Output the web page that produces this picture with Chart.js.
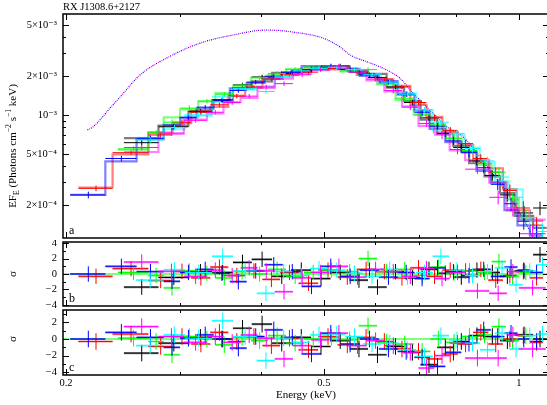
<!doctype html>
<html>
<head>
<meta charset="utf-8">
<title>RX J1308.6+2127</title>
<script src="https://cdn.jsdelivr.net/npm/chart.js"></script>
<style>
    body { margin: 0; background: #fff; overflow: hidden; }
    #wrap { position: relative; width: 547px; height: 405px; overflow: hidden; }
    canvas { position: absolute; left: 0; }
</style>
<script>
    // axis ticks (panel a values are in units of 1e-4)
    const xTickVals = [0.2, 0.3, 0.4, 0.5, 0.6, 0.7, 0.8, 0.9, 1.0];
    const xLabelVals = [0.2, 0.5, 1.0];
    const yTickValsA = [2, 3, 4, 5, 6, 7, 8, 9, 10, 20, 30, 40, 50];
    const yLabelsA = {2: '2×10⁻⁴', 5: '5×10⁻⁴', 10: '10⁻³', 20: '2×10⁻³', 50: '5×10⁻³'};
    const resTickVals = [-4, -3, -2, -1, 0, 1, 2, 3, 4];

    // unabsorbed model curve (dotted)
    const curveE = [0.2158, 0.2200, 0.236, 0.2425, 0.2601, 0.2862, 0.3222, 0.3618, 0.4082, 0.4589, 0.4984, 0.5296, 0.5489, 0.5835, 0.6107, 0.655, 0.686, 0.711, 0.775, 0.82, 0.902, 0.958, 1.004, 1.052];
    const curveV = [7.65, 8.07, 11.9, 13.8, 20.4, 27.7, 36.1, 41.7, 45.6, 43.2, 39.5, 33.7, 29.2, 25.8, 23.6, 19.3, 14.8, 12.4, 8.07, 6.75, 3.75, 2.49, 1.74, 1.13];

    // black
    const blackEdges = [0.2457, 0.2778, 0.309, 0.336, 0.362, 0.387, 0.416, 0.445, 0.478, 0.512, 0.548, 0.585, 0.625, 0.665, 0.705, 0.748, 0.792, 0.838, 0.885, 0.935, 0.985, 1.052, 1.104];
    const blackFlux = [6.1, 8.1, 10.7, 13.1, 17.1, 19.7, 21.0, 22.0, 23.0, 24.0, 21.5, 19.5, 16.5, 12.5, 9.5, 7.2, 5.6, 4.4, 3.4, 2.4, 1.74, 1.9];
    const blackErr = [5, 5, 4, 4, 4, 4, 4, 4, 4, 4, 4, 4, 4, 5, 5, 6, 7, 8, 9, 11, 13, 12];
    const blackResB = [-1.7, -0.45, 0.3, 0.2, 1.5, 1.9, -0.3, 0.5, -0.6, 0.2, -0.8, -1.7, 0.3, -0.5, 0.6, 0.1, -0.4, 0.5, 0.2, -0.3, 0.4, 2.5];
    const blackResC = [-1.7, -0.5, 0.2, 0.0, 1.3, 1.8, -0.5, 0.2, -0.9, -0.2, -1.2, -1.9, -0.9, -1.6, -3.1, -1.0, -0.3, 0.4, 0.3, -0.2, 0.5, 0.0];

    // red
    const redEdges = [0.209, 0.236, 0.268, 0.292, 0.312, 0.334, 0.356, 0.378, 0.402, 0.428, 0.457, 0.490, 0.525, 0.562, 0.600, 0.640, 0.680, 0.720, 0.762, 0.805, 0.850, 0.897, 0.945, 0.992, 1.040, 1.090];
    const redFlux = [2.7, 5.1, 7.0, 8.8, 10.5, 12.0, 14.0, 16.5, 19.0, 20.5, 21.5, 23.0, 22.5, 21.0, 19.0, 16.5, 12.5, 9.5, 7.6, 6.0, 4.6, 3.6, 2.6, 1.9, 1.4];
    const redErr = [5, 4, 5, 5, 5, 4, 4, 4, 4, 4, 4, 4, 4, 4, 4, 4, 5, 6, 6, 7, 8, 9, 11, 13, 16];
    const redResB = [-0.3, 0.7, -0.85, 0.35, -0.5, 0.9, -0.2, 0.4, -0.7, 0.2, -1.2, 0.5, -0.4, 0.6, 0.3, -0.5, 0.8, -0.3, 0.5, 0.4, 0.6, -0.8, -0.2, 0.3, -0.5];
    const redResC = [-0.3, 0.6, -0.9, 0.3, -0.6, 0.8, -0.3, 0.3, -0.8, 0.1, -1.3, 0.3, -0.7, 0.2, -0.3, -1.2, -1.5, -2.4, -1.8, -0.6, 0.8, -0.6, 0.0, 0.4, -0.4];

    // green
    const greenEdges = [0.2405, 0.268, 0.283, 0.300, 0.320, 0.340, 0.362, 0.386, 0.410, 0.437, 0.466, 0.497, 0.530, 0.566, 0.604, 0.645, 0.688, 0.730, 0.772, 0.816, 0.862, 0.908, 0.955, 1.000, 1.050];
    const greenFlux = [5.45, 7.25, 8.8, 11.3, 12.8, 14.5, 17.0, 19.5, 21.0, 22.5, 23.5, 24.0, 22.0, 22.5, 17.5, 13.5, 10.0, 8.5, 6.6, 5.3, 4.2, 3.6, 2.2, 1.6];
    const greenErr = [5, 5, 5, 5, 4, 4, 4, 4, 4, 4, 4, 4, 4, 4, 4, 5, 5, 6, 7, 8, 9, 10, 12, 15];
    const greenResB = [0.2, -0.2, -1.8, 0.4, 0.1, -0.5, 0.3, 0.0, 0.6, -0.3, 0.2, 0.5, 0.3, 2.0, 0.3, 0.6, -0.2, 0.9, 0.1, 0.4, 0.2, 1.6, -0.3, 0.2];
    const greenResC = [0.1, -0.3, -1.9, 0.3, 0.0, -0.7, 0.2, -0.2, 0.4, -0.5, 0.0, 0.2, -0.1, 1.6, -0.4, -0.6, -1.5, 0.0, -0.4, 0.3, 0.5, 1.5, -0.2, 0.4];

    // blue
    const blueEdges = [0.203, 0.230, 0.257, 0.283, 0.300, 0.318, 0.338, 0.358, 0.380, 0.405, 0.432, 0.462, 0.495, 0.530, 0.568, 0.608, 0.650, 0.690, 0.728, 0.770, 0.815, 0.860, 0.905, 0.950, 0.995, 1.040, 1.090];
    const blueFlux = [2.4, 4.6, 6.6, 8.0, 9.6, 11.5, 13.0, 15.5, 18.0, 20.0, 21.5, 22.5, 24.0, 22.5, 20.5, 18.0, 14.5, 10.5, 8.2, 6.3, 5.1, 3.9, 2.9, 2.05, 1.5, 1.2];
    const blueErr = [6, 5, 5, 5, 5, 4, 4, 4, 4, 4, 4, 4, 4, 4, 4, 4, 5, 6, 6, 7, 8, 9, 10, 12, 14, 16];
    const blueResB = [0.0, 1.0, 0.3, -0.95, 0.2, 0.6, 0.1, -1.0, 0.4, 1.2, 0.3, -1.6, 1.0, -0.3, 0.5, -0.4, 0.2, -0.6, 0.8, 0.3, -0.2, 0.6, -0.3, 0.9, 0.5, 0.2];
    const blueResC = [0.0, 0.8, 0.2, -1.0, 0.1, 0.5, 0.0, -1.1, 0.3, 1.1, 0.2, -1.8, 0.7, -0.6, 0.0, -1.2, -1.5, -2.2, -3.3, -1.6, -0.5, 1.1, 0.3, 0.7, 0.0, -0.3];

    // cyan
    const cyanEdges = [0.2566, 0.2829, 0.305, 0.336, 0.362, 0.394, 0.420, 0.447, 0.476, 0.507, 0.540, 0.575, 0.612, 0.652, 0.694, 0.736, 0.780, 0.825, 0.871, 0.918, 0.966, 1.014, 1.065, 1.110];
    const cyanFlux = [6.4, 8.0, 10.0, 13.8, 16.0, 15.2, 20.0, 22.0, 23.0, 23.5, 22.5, 20.5, 18.0, 14.5, 11.0, 8.8, 7.2, 5.5, 4.4, 3.3, 2.3, 1.6, 1.25];
    const cyanErr = [5, 5, 5, 4, 4, 4, 4, 4, 4, 4, 4, 4, 4, 5, 5, 6, 6, 7, 8, 9, 11, 13, 16];
    const cyanResB = [-0.8, 0.55, 0.2, 2.3, 0.4, -2.5, 0.3, -0.2, 0.7, 0.5, 0.1, -0.3, 0.6, -0.4, 0.2, 2.3, 0.5, -0.2, 0.3, 0.8, -1.4, 0.4, 1.2];
    const cyanResC = [-0.8, 0.5, 0.1, 2.2, 0.3, -2.6, 0.1, -0.4, 0.5, 0.6, 0.3, -0.6, -0.5, -1.3, -2.1, 0.4, -0.1, -0.5, -1.3, 0.7, -1.2, 0.4, 0.6];

    // magenta
    const magentaEdges = [0.2457, 0.2778, 0.304, 0.330, 0.350, 0.372, 0.395, 0.420, 0.448, 0.478, 0.510, 0.545, 0.582, 0.620, 0.660, 0.700, 0.740, 0.782, 0.826, 0.900, 0.958, 1.000, 1.100];
    const magentaFlux = [5.6, 7.25, 9.1, 10.5, 12.5, 14.0, 16.5, 17.5, 20.5, 22.5, 24.0, 21.5, 19.0, 15.5, 11.5, 8.6, 7.0, 5.4, 3.8, 2.3, 1.9, 1.2];
    const magentaErr = [5, 5, 4, 4, 4, 4, 4, 4, 4, 4, 4, 4, 4, 5, 5, 6, 7, 8, 8, 12, 14, 16];
    const magentaResB = [1.55, 0.35, -0.3, 0.5, -0.2, 0.8, 0.4, -2.3, -0.5, 0.2, 1.0, -0.4, 0.6, 0.3, -0.3, 0.7, -0.6, 0.2, -2.2, -2.5, 0.3, -1.8];
    const magentaResC = [1.5, 0.3, -0.4, 0.3, -0.4, 0.5, 0.1, -2.4, -0.8, -0.1, 0.7, -0.8, -0.2, -0.8, -1.6, -3.5, -2.0, -0.5, -2.3, -2.3, 0.5, -1.2];

    const sets = [
        {rgb: '0,0,0', edges: blackEdges, flux: blackFlux, err: blackErr, resB: blackResB, resC: blackResC},
        {rgb: '255,0,0', edges: redEdges, flux: redFlux, err: redErr, resB: redResB, resC: redResC},
        {rgb: '0,255,0', edges: greenEdges, flux: greenFlux, err: greenErr, resB: greenResB, resC: greenResC},
        {rgb: '0,0,255', edges: blueEdges, flux: blueFlux, err: blueErr, resB: blueResB, resC: blueResC},
        {rgb: '0,255,255', edges: cyanEdges, flux: cyanFlux, err: cyanErr, resB: cyanResB, resC: cyanResC},
        {rgb: '255,0,255', edges: magentaEdges, flux: magentaFlux, err: magentaErr, resB: magentaResB, resC: magentaResC}
    ];
</script>
</head>

<body>
<div id="wrap">
    <canvas id="ca" width="549" height="240" style="top:0px"></canvas>
    <canvas id="cb" width="549" height="70" style="top:240px"></canvas>
    <canvas id="cc" width="549" height="97" style="top:308px"></canvas>
</div>

<script>
    const serif = "'Liberation Serif', 'DejaVu Serif', serif";
    const xMin = 0.19787, xMax = 1.113;

    function richRotated(ctx, segs, cx, cy, size) {
        ctx.save();
        ctx.translate(cx, cy);
        ctx.rotate(-Math.PI / 2);
        ctx.fillStyle = '#000';
        ctx.textAlign = 'left';
        ctx.textBaseline = 'alphabetic';
        const fontFor = s => (s[1] ? size * 0.7 : size) + 'px ' + serif;
        let w = 0;
        segs.forEach(s => { ctx.font = fontFor(s); w += ctx.measureText(s[0]).width; });
        let x = -w / 2;
        segs.forEach(s => {
            ctx.font = fontFor(s);
            let dy = 0;
            if (s[1] == 1) dy = size * 0.3;
            if (s[1] == -1) dy = -size * 0.4;
            ctx.fillText(s[0], x, size * 0.35 + dy);
            x += ctx.measureText(s[0]).width;
        });
        ctx.restore();
    }

    const frameTicks = {
        id: 'frameTicks',
        afterDatasetsDraw(chart, args, o) {
            const ctx = chart.ctx, a = chart.chartArea, sx = chart.scales.x, sy = chart.scales.y;
            ctx.save();
            ctx.strokeStyle = '#000';
            ctx.lineWidth = 1;
            ctx.beginPath();
            xTickVals.forEach(v => {
                const px = Math.round(sx.getPixelForValue(v)) + 0.5;
                const len = xLabelVals.includes(v) ? 6 : 3;
                ctx.moveTo(px, a.bottom); ctx.lineTo(px, a.bottom - len);
                ctx.moveTo(px, a.top); ctx.lineTo(px, a.top + len);
            });
            o.yTicks.forEach(v => {
                if (v <= sy.min || v >= sy.max) return;
                const py = Math.round(sy.getPixelForValue(v)) + 0.5;
                const len = o.yMajor.includes(v) ? 6 : 3;
                ctx.moveTo(a.left, py); ctx.lineTo(a.left + len, py);
                ctx.moveTo(a.right, py); ctx.lineTo(a.right - len, py);
            });
            ctx.stroke();
            ctx.lineWidth = 1.5;
            ctx.strokeRect(a.left, a.top, a.right - a.left, a.bottom - a.top);
            ctx.restore();
        },
        afterDraw(chart, args, o) {
            const ctx = chart.ctx, a = chart.chartArea;
            ctx.save();
            ctx.fillStyle = '#000';
            ctx.font = '12px ' + serif;
            ctx.textAlign = 'left';
            ctx.textBaseline = 'alphabetic';
            ctx.fillText(o.letter, a.left + 6, a.bottom - 4);
            if (o.title) {
                ctx.font = '10.5px ' + serif;
                ctx.textBaseline = 'middle';
                ctx.fillText(o.title, 63, 7);
            }
            ctx.restore();
            richRotated(ctx, o.ySegs, 12, o.yCenter, 11);
        }
    };

    function lineSet(data, color, width, order, extra) {
        return Object.assign({
            data: data, borderColor: color, borderWidth: width, pointRadius: 0, pointHoverRadius: 0,
            fill: false, spanGaps: false, tension: 0, order: order
        }, extra || {});
    }

    // horizontal bar over the bin + vertical error bar at the bin centre
    function crossPoints(edges, vals, halfErr) {
        const pts = [];
        vals.forEach((v, i) => {
            const lo = edges[i], hi = edges[i + 1], c = (lo + hi) / 2, d = halfErr(i, v);
            pts.push({x: lo, y: v}, {x: hi, y: v}, {x: hi, y: null},
                {x: c, y: v - d}, {x: c, y: v + d}, {x: c, y: null});
        });
        return pts;
    }

    function fixY(s) {
        s.width = 63;
        s.paddingTop = 0; s.paddingBottom = 0; s.paddingLeft = 0; s.paddingRight = 0;
    }

    const tickFont = {family: serif, size: 10.5};
    const hiddenX = {type: 'logarithmic', min: xMin, max: xMax, display: false};

    function makeChart(id, datasets, xOpts, yOpts, pad, plug) {
        return new Chart(document.getElementById(id), {
            type: 'line',
            data: {datasets: datasets},
            options: {
                responsive: false,
                animation: false,
                events: [],
                layout: {padding: pad},
                plugins: {legend: {display: false}, tooltip: {enabled: false}, frameTicks: plug},
                scales: {x: xOpts, y: yOpts}
            },
            plugins: [frameTicks]
        });
    }

    // panel a
    const dsA = [];
    ['0,0,255', '255,0,255'].forEach((rgb, k) => {
        dsA.push(lineSet(curveE.map((e, i) => ({x: e, y: curveV[i]})), 'rgb(' + rgb + ')', 1.2, 300,
            {borderDash: [1, 3], borderDashOffset: k * 2, cubicInterpolationMode: 'monotone'}));
    });
    sets.forEach((s, k) => {
        const model = s.flux.map((f, i) => f - s.resB[i] * f * s.err[i] / 100);
        const steps = model.map((m, i) => ({x: s.edges[i], y: m}));
        steps.push({x: s.edges[model.length], y: model[model.length - 1]});
        dsA.push(lineSet(steps, 'rgba(' + s.rgb + ',0.5)', 2.2, 200 - k, {stepped: 'before'}));
        dsA.push(lineSet(crossPoints(s.edges, s.flux, (i, v) => v * s.err[i] / 100), 'rgb(' + s.rgb + ')', 1, 100 - k));
    });

    makeChart('ca', dsA, hiddenX, {
        type: 'logarithmic', min: 1.112, max: 60.7,
        afterBuildTicks: s => { s.ticks = yTickValsA.map(v => ({value: v})); },
        afterFit: fixY,
        grid: {display: false, drawTicks: false},
        border: {display: false},
        ticks: {autoSkip: false, padding: 6, color: '#000', font: tickFont, callback: v => yLabelsA[v] || ''}
    }, {top: 14, bottom: 2, left: 0, right: 0}, {
        yTicks: yTickValsA, yMajor: [2, 5, 10, 20, 50], letter: 'a', title: 'RX J1308.6+2127',
        ySegs: [['EF', 0], ['E', 1], [' (Photons cm', 0], ['−2', -1], [' s', 0], ['−1', -1], [' keV)', 0]],
        yCenter: 146
    });

    // residual panels b and c
    function resDatasets(key) {
        const ds = [lineSet([{x: xMin, y: 0}, {x: xMax, y: 0}], '#00ff00', 1.2, 300)];
        sets.forEach((s, k) => {
            const bars = [];
            s[key].forEach((r, i) => bars.push({x: s.edges[i], y: r}, {x: s.edges[i + 1], y: r}, {x: s.edges[i + 1], y: null}));
            ds.push(lineSet(bars, 'rgba(' + s.rgb + ',0.45)', 2.2, 200 - k));
            ds.push(lineSet(crossPoints(s.edges, s[key], () => 1), 'rgb(' + s.rgb + ')', 1, 100 - k));
        });
        return ds;
    }

    function resY(min, max) {
        const vals = resTickVals.filter(v => v >= min && v <= max);
        return {
            type: 'linear', min: min, max: max,
            afterBuildTicks: s => { s.ticks = vals.map(v => ({value: v})); },
            afterFit: fixY,
            grid: {display: false, drawTicks: false},
            border: {display: false},
            ticks: {autoSkip: false, padding: 6, color: '#000', font: tickFont,
                callback: v => (v % 2 === 0 ? String(v).replace('-', '−') : '')}
        };
    }

    const sigmaSegs = [['σ', 0]];

    makeChart('cb', resDatasets('resB'), hiddenX, resY(-4.15, 4.15), {top: 2, bottom: 4, left: 0, right: 0}, {
        yTicks: resTickVals, yMajor: [-4, -2, 0, 2, 4], letter: 'b', ySegs: sigmaSegs, yCenter: 34
    });

    makeChart('cc', resDatasets('resC'), {
        type: 'logarithmic', min: xMin, max: xMax, position: 'bottom',
        afterBuildTicks: s => { s.ticks = xTickVals.map(v => ({value: v})); },
        afterFit: s => { s.height = 30; s.paddingLeft = 0; s.paddingRight = 0; },
        grid: {display: false, drawTicks: false},
        border: {display: false},
        ticks: {autoSkip: false, maxRotation: 0, padding: 2, color: '#000', font: tickFont,
            callback: v => (xLabelVals.includes(v) ? String(v) : '')},
        title: {display: true, text: 'Energy (keV)', color: '#000', font: {family: serif, size: 11}, padding: {top: 0, bottom: 3}}
    }, resY(-4.34, 3.5), {top: 2, bottom: 0, left: 0, right: 0}, {
        yTicks: resTickVals, yMajor: [-4, -2, 0, 2], letter: 'c', ySegs: sigmaSegs, yCenter: 31
    });
</script>
</body>
</html>
